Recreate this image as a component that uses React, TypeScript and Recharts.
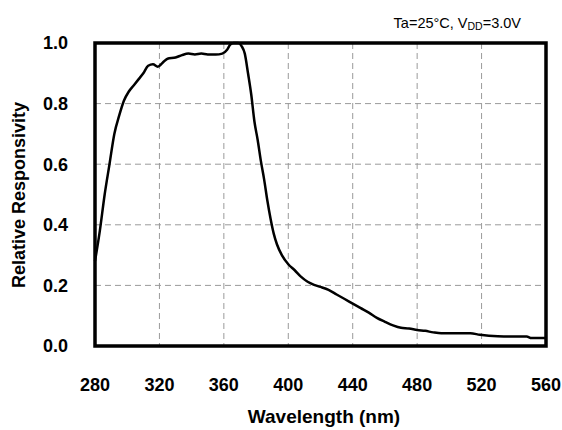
import React from 'react';
import { LineChart, Line, XAxis, YAxis, CartesianGrid, ReferenceArea } from 'recharts';

const wavelengths = [280, 283, 286, 289, 292, 295, 298, 301, 304, 307, 310, 313, 316, 319, 322, 325, 330, 334, 338, 342, 346, 350, 355, 359, 362, 364, 366, 369, 371, 373, 375, 377, 379, 381, 383, 385, 387, 389, 391, 393, 396, 400, 404, 408, 412, 416, 420, 425, 430, 435, 440, 445, 450, 455, 460, 465, 470, 475, 480, 485, 490, 495, 505, 513, 519, 530, 540, 548, 551, 560];
const responsivity = [0.28, 0.38, 0.5, 0.6, 0.7, 0.76, 0.81, 0.84, 0.86, 0.88, 0.9, 0.925, 0.93, 0.922, 0.935, 0.948, 0.952, 0.96, 0.965, 0.962, 0.965, 0.962, 0.962, 0.965, 0.978, 0.995, 1.0, 1.0, 0.99, 0.965, 0.9, 0.83, 0.74, 0.68, 0.61, 0.55, 0.48, 0.42, 0.37, 0.335, 0.3, 0.27, 0.25, 0.228, 0.212, 0.202, 0.195, 0.185, 0.17, 0.155, 0.14, 0.125, 0.11, 0.093, 0.08, 0.068, 0.06, 0.058, 0.053, 0.05, 0.045, 0.042, 0.042, 0.042, 0.037, 0.032, 0.031, 0.031, 0.026, 0.026];
const xTicks = [280, 320, 360, 400, 440, 480, 520, 560];
const yTicks = [0, 0.2, 0.4, 0.6, 0.8, 1.0];

const data = wavelengths.map((w, i) => ({ w, r: responsivity[i] }));

const FONT = '"Liberation Sans", Arial, Helvetica, sans-serif';

export default function App() {
  return (
    <div style={{ position: 'absolute', left: 0, top: 0, width: 562, height: 430, background: '#fff', fontFamily: FONT }}>
      <LineChart width={562} height={430} data={data} margin={{ top: 43, right: 16, bottom: 0, left: 0 }}>
        <CartesianGrid stroke="#9a9a9a" strokeDasharray="6 4" strokeWidth={1} />
        <XAxis
          dataKey="w"
          type="number"
          domain={[280, 560]}
          ticks={xTicks}
          height={84}
          tickLine={false}
          axisLine={false}
          tickMargin={26}
          tick={{ fill: '#000', fontSize: 18, fontWeight: 'bold', fontFamily: FONT }}
        />
        <YAxis
          type="number"
          domain={[0, 1]}
          ticks={yTicks}
          width={95}
          tickLine={false}
          axisLine={false}
          tickMargin={21}
          tickFormatter={(v: number) => v.toFixed(1)}
          tick={{ fill: '#000', fontSize: 18, fontWeight: 'bold', fontFamily: FONT }}
        />
        <Line type="monotone" dataKey="r" stroke="#000" strokeWidth={2.5} dot={false} isAnimationActive={false} />
        <ReferenceArea x1={280} x2={560} y1={0} y2={1} fill="none" fillOpacity={0} stroke="#000" strokeWidth={3.5} />
      </LineChart>
      <svg width={562} height={430} style={{ position: 'absolute', left: 0, top: 0, pointerEvents: 'none' }}>
        <text x={521} y={24} textAnchor="end" dominantBaseline="middle" fontSize={14.5} fontFamily={FONT} fill="#000">
          Ta=25°C, V<tspan fontSize={10.5} dy={3}>DD</tspan><tspan dy={-3}>=3.0V</tspan>
        </text>
        <text x={20} y={195} textAnchor="middle" dominantBaseline="middle" transform="rotate(-90 20 195)" fontSize={18} fontWeight="bold" fontFamily={FONT} fill="#000">
          Relative Responsivity
        </text>
        <text x={324} y={418} textAnchor="middle" dominantBaseline="middle" fontSize={19} fontWeight="bold" fontFamily={FONT} fill="#000">
          Wavelength (nm)
        </text>
      </svg>
    </div>
  );
}
